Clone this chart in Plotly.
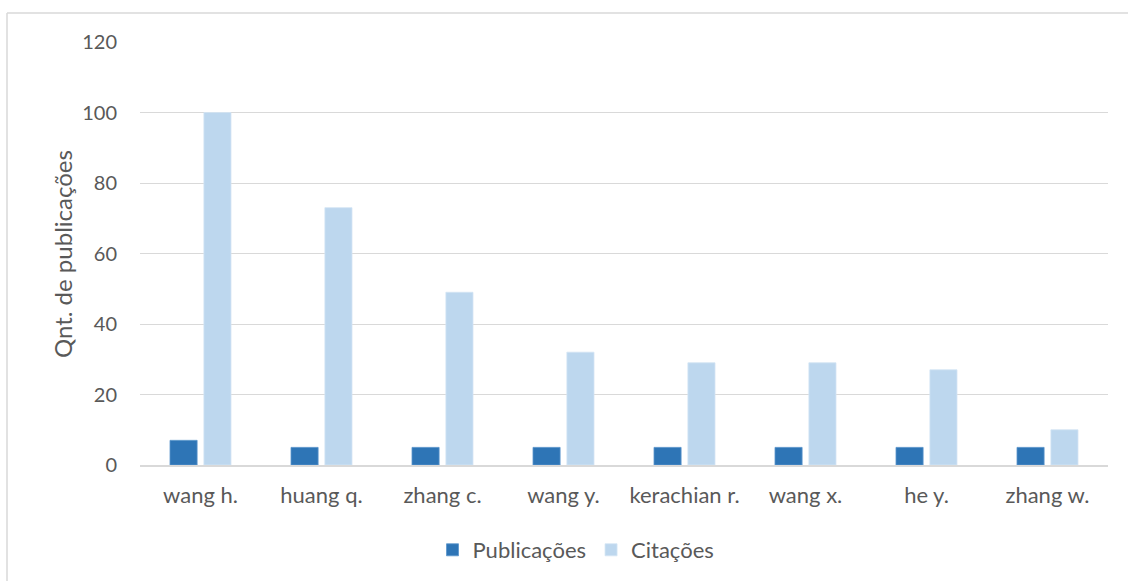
import plotly.graph_objects as go

authors = ["wang h.", "huang q.", "zhang c.", "wang y.", "kerachian r.", "wang x.", "he y.", "zhang w."]
publicacoes = [7, 5, 5, 5, 5, 5, 5, 5]
citacoes = [100, 73, 49, 32, 29, 29, 27, 10]
y_ticks = [0, 20, 40, 60, 80, 100, 120]

W, H = 1128, 581
L, R, T, B = 140, 20, 42, 116
pw, ph = W - L - R, H - T - B

def px(x):
    return (x - L) / pw

def py(y):
    return (H - B - y) / ph

font = "Lato, 'Open Sans', sans-serif"
txt = "#595959"
grid = "#D9D9D9"

fig = go.Figure()
fig.add_trace(go.Bar(x=authors, y=publicacoes, name="Publicações",
                     marker=dict(color="#2E75B6", line=dict(color="#5B95CC", width=0.8))))
fig.add_trace(go.Bar(x=authors, y=citacoes, name="Citações",
                     marker=dict(color="#BDD7EE", line=dict(color="#D3E4F4", width=0.8))))

fig.update_layout(
    width=W, height=H,
    margin=dict(l=L, r=R, t=T, b=B, autoexpand=False),
    paper_bgcolor="white", plot_bgcolor="white",
    barmode="group", bargap=0.44, bargroupgap=0.2,
    font=dict(family=font, size=20, color=txt),
    xaxis=dict(showgrid=False, showline=True, linecolor=grid, linewidth=1.5,
               ticks="", tickfont=dict(size=22, color=txt), ticklabelstandoff=10),
    yaxis=dict(range=[0, 120], tickvals=y_ticks, showgrid=True, gridcolor=grid,
               gridwidth=1, zeroline=False, showline=False, ticks="",
               tickfont=dict(size=20, color=txt), ticklabelstandoff=22),
    legend=dict(orientation="h", x=px(576), xanchor="center", y=py(550), yanchor="middle",
                font=dict(size=22, color=txt), itemwidth=30, traceorder="normal"),
    showlegend=True,
)

fig.add_annotation(text="Qnt. de publicações", textangle=-90, xref="paper", yref="paper",
                   x=px(62), y=py(254), xanchor="center", yanchor="middle",
                   showarrow=False, font=dict(size=24, color=txt, family=font))

# outer chart border
fig.add_shape(type="line", xref="paper", yref="paper", x0=px(7), y0=py(13), x1=px(1140), y1=py(13),
              line=dict(color=grid, width=1.5))
fig.add_shape(type="line", xref="paper", yref="paper", x0=px(7), y0=py(13), x1=px(7), y1=py(600),
              line=dict(color=grid, width=1.5))

fig.write_html("out.html")
